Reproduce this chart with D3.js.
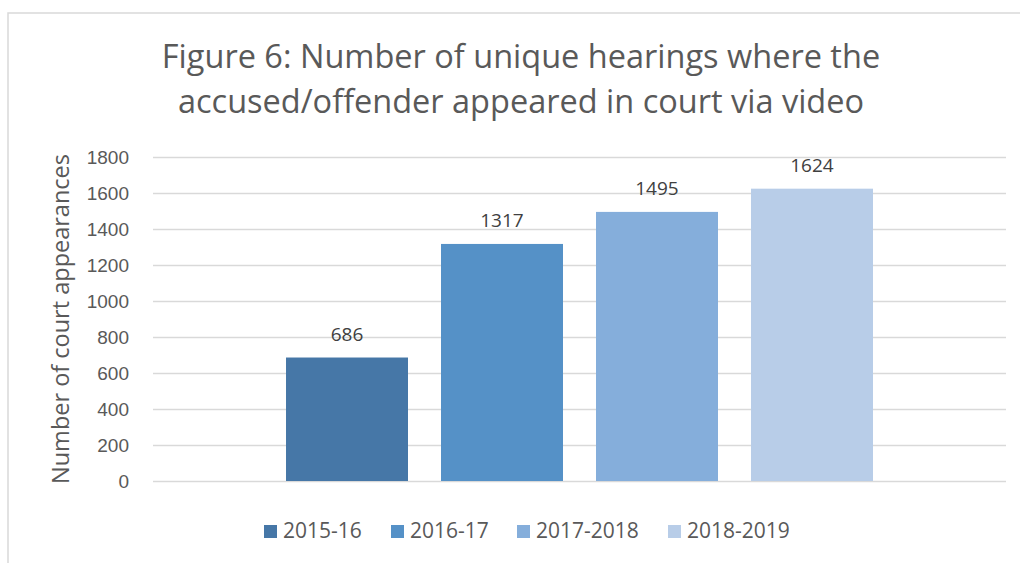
<!DOCTYPE html>
<html lang="en">
<head>
<meta charset="utf-8">
<title>Figure 6</title>
<script src="https://d3js.org/d3.v7.min.js"></script>
<style>
  body { margin: 0; background: #fff; }
  svg { display: block; font-family: "Open Sans", "Noto Sans", sans-serif; }
  .tick text { fill: #595959; font-size: 19px; }
</style>
</head>
<body>
<svg width="1020" height="563"></svg>
<script>
// data
const categories = [""];
const seriesNames = ["2015-16", "2016-17", "2017-2018", "2018-2019"];
const seriesValues = [686, 1317, 1495, 1624];
const seriesColors = ["#4677a7", "#5591c7", "#85aedb", "#b8cde8"];
const yTicks = [0, 200, 400, 600, 800, 1000, 1200, 1400, 1600, 1800];
const titleLines = ["Figure 6: Number of unique hearings where the", "accused/offender appeared in court via video"];

const svg = d3.select("svg");
const plot = {left: 153, right: 1006, top: 157, bottom: 481};

// chart border
svg.append("rect")
   .attr("x", 8).attr("y", 13)
   .attr("width", 1040).attr("height", 600)
   .attr("fill", "none").attr("stroke", "#d9d9d9").attr("stroke-width", 1.5);

const y = d3.scaleLinear().domain([0, 1800]).range([plot.bottom, plot.top]);

const x0 = d3.scaleBand().domain(categories)
             .range([plot.left, plot.right])
             .paddingInner(0).paddingOuter(0.2266);
const x1 = d3.scaleBand().domain(seriesNames)
             .range([0, x0.bandwidth()])
             .paddingInner(0.213).paddingOuter(0);

// gridlines + tick labels
const yAxis = svg.append("g")
   .attr("transform", "translate(" + plot.left + ",0)")
   .call(d3.axisLeft(y).tickValues(yTicks).tickFormat(d3.format("d"))
           .tickSize(-(plot.right - plot.left)).tickPadding(24));
yAxis.select(".domain").remove();
yAxis.selectAll(".tick line").attr("stroke", "#d9d9d9").attr("stroke-width", 1.5);

// bars
const bars = svg.append("g")
   .attr("transform", "translate(" + x0(categories[0]) + ",0)");

bars.selectAll("rect")
    .data(seriesNames)
    .enter()
    .append("rect")
    .attr("x", d => x1(d))
    .attr("width", x1.bandwidth())
    .attr("y", (d, i) => y(seriesValues[i]))
    .attr("height", (d, i) => y(0) - y(seriesValues[i]))
    .attr("fill", (d, i) => seriesColors[i]);

// data labels
bars.selectAll("text")
    .data(seriesNames)
    .enter()
    .append("text")
    .attr("x", d => x1(d) + x1.bandwidth() / 2)
    .attr("y", (d, i) => y(seriesValues[i]) - 17)
    .attr("text-anchor", "middle")
    .attr("fill", "#404040")
    .style("font-size", "19px")
    .text((d, i) => seriesValues[i]);

// title
svg.append("g").selectAll("text")
   .data(titleLines)
   .enter()
   .append("text")
   .attr("x", 521)
   .attr("y", (d, i) => 68 + i * 45)
   .attr("text-anchor", "middle")
   .attr("fill", "#595959")
   .style("font-size", "32.5px")
   .text(d => d);

// y axis title
svg.append("text")
   .attr("transform", "translate(69," + (plot.top + plot.bottom) / 2 + ") rotate(-90)")
   .attr("text-anchor", "middle")
   .attr("fill", "#595959")
   .style("font-size", "23.5px")
   .text("Number of court appearances");

// legend
const legendX = [264, 391, 517, 668];
const legend = svg.append("g").selectAll("g")
   .data(seriesNames)
   .enter()
   .append("g")
   .attr("transform", (d, i) => "translate(" + legendX[i] + ",525)");

legend.append("rect")
      .attr("width", 13).attr("height", 13)
      .attr("fill", (d, i) => seriesColors[i]);

legend.append("text")
      .attr("x", 19).attr("y", 13)
      .attr("fill", "#595959")
      .style("font-size", "21px")
      .text(d => d);
</script>
</body>
</html>
